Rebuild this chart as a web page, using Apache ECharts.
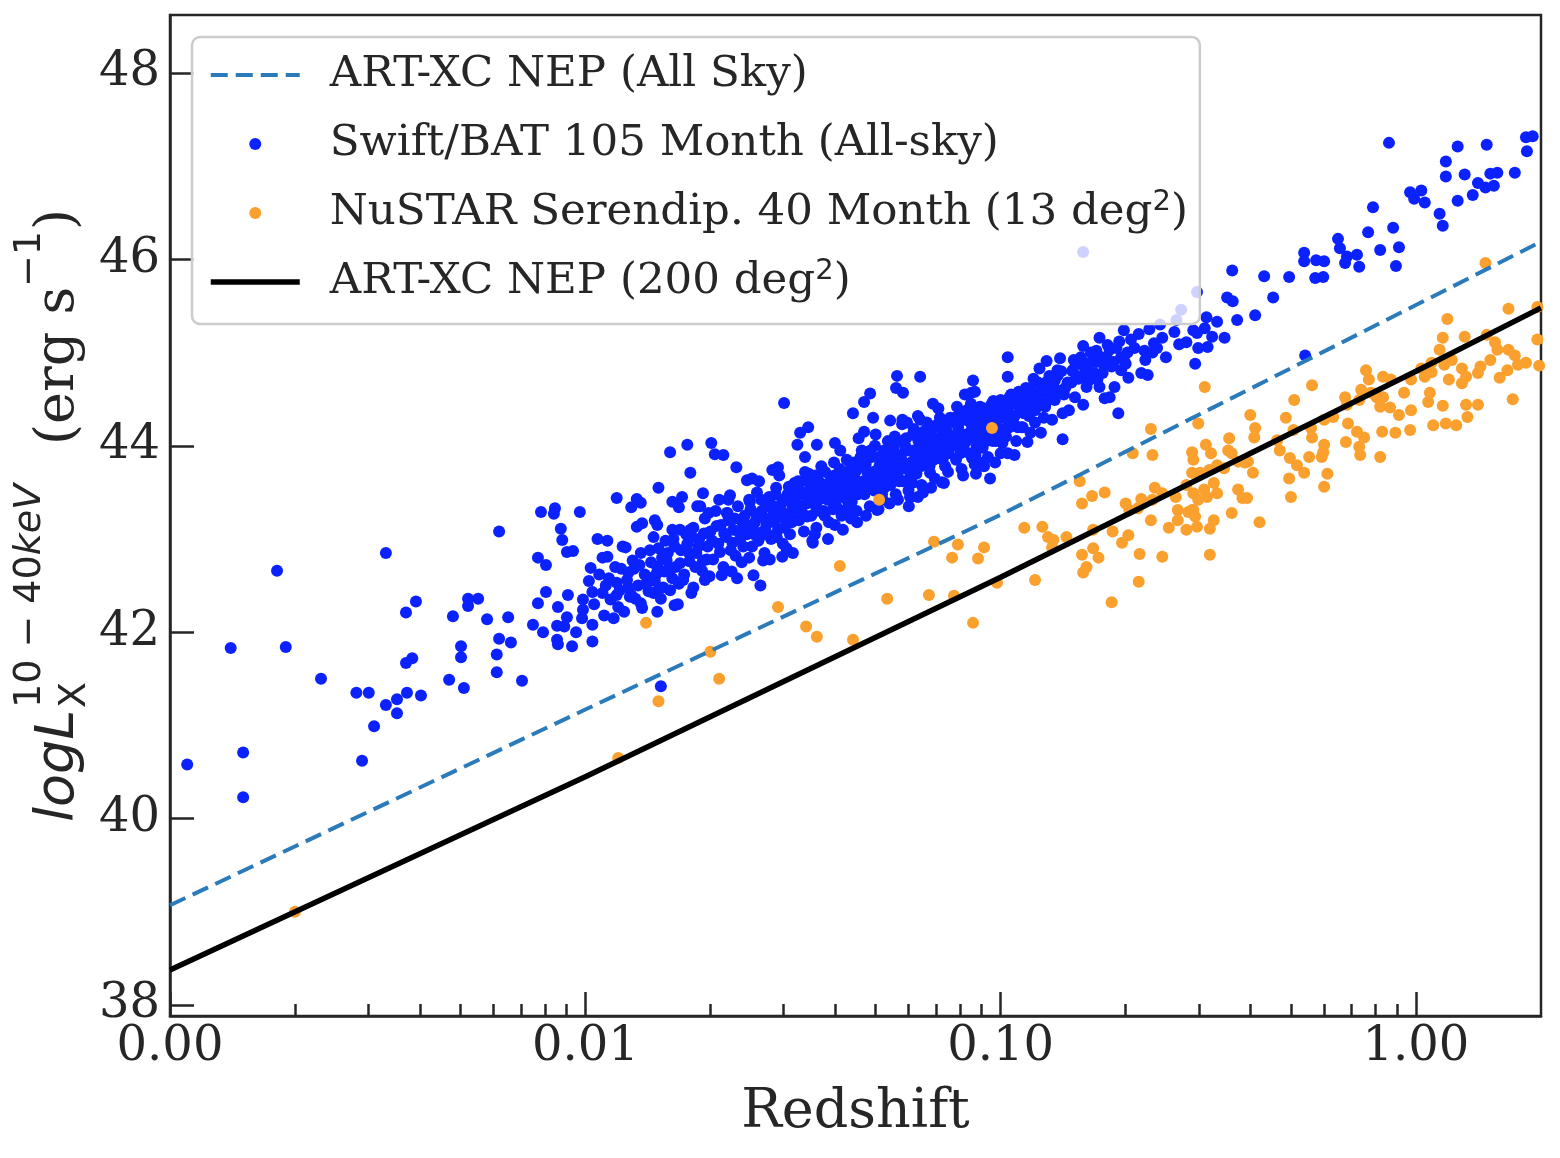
<!DOCTYPE html>
<html><head><meta charset="utf-8">
<script src="https://cdn.jsdelivr.net/npm/echarts@6/dist/echarts.min.js"></script>
<style>html,body{margin:0;padding:0;background:#fff}#c{width:1560px;height:1158px}</style>
</head><body><div id="c"></div>
<script>
const xMajorTicks = [0.001, 0.01, 0.1, 1];
const xMinorTicks = [0.002,0.003,0.004,0.005,0.006,0.007,0.008,0.009,0.02,0.03,0.04,0.05,0.06,0.07,0.08,0.09,0.2,0.3,0.4,0.5,0.6,0.7,0.8,0.9];
const yTicks = [38, 40, 42, 44, 46, 48];

const artAllSky = [[0.001,39.07],[0.01,41.17],[0.1,43.26],[1,45.51],[2,46.19]];
const artNEP200 = [[0.001,38.375],[0.01,40.45],[0.1,42.59],[1,44.80],[2,45.48]];

const swiftLowZ = [[0.00110,40.58],[0.00150,40.71],[0.00150,40.23],[0.00140,41.83],[0.00181,42.66],[0.00190,41.84],[0.00231,41.50],[0.00281,41.35],[0.00301,41.35],[0.00290,40.62],[0.00310,40.99],[0.00331,41.22],[0.00331,42.85],[0.00352,41.28],[0.00352,41.13],[0.00372,41.35],[0.00402,41.32],[0.00370,41.67],[0.00383,41.72],[0.00370,42.21],[0.00391,42.33],[0.00480,42.17],[0.00522,42.36],[0.00552,42.36],[0.00522,42.28],[0.00580,42.14],[0.00620,43.08],[0.00652,42.16],[0.00502,41.85],[0.00502,41.73],[0.00620,41.93],[0.00662,41.89],[0.00612,41.76],[0.00612,41.57],[0.00470,41.49],[0.00510,41.40],[0.00704,41.48],[0.00782,43.29],[0.00845,43.33],[0.00840,43.27],[0.00970,43.29],[0.00873,43.11],[0.00880,42.99],[0.00903,42.86],[0.00934,42.87],[0.00769,42.80],[0.00804,42.72],[0.00804,42.43],[0.00769,42.31],[0.00908,42.40],[0.00859,42.27],[0.00987,42.35],[0.00987,42.24],[0.00982,42.15],[0.00903,42.16],[0.00855,42.07],[0.00890,42.06],[0.00748,42.08],[0.00791,42.00],[0.00855,41.92],[0.00859,41.87],[0.00929,41.85],[0.00950,42.00]];

const swiftMidZ = [[0.0103,42.69],[0.0107,43.00],[0.0113,42.98],[0.0113,42.81],[0.0104,42.43],[0.0110,42.42],[0.0104,42.08],[0.0104,41.90],[0.0111,42.18],[0.0125,42.91],[0.0136,42.85],[0.0130,42.77],[0.0119,42.53],[0.0127,42.64],[0.0128,42.38],[0.0136,42.31],[0.0120,42.27],[0.0149,42.22],[0.0164,42.29],[0.0146,42.42],[0.0154,42.48],[0.0162,42.58],[0.0141,42.59],[0.0149,42.70],[0.0157,42.77],[0.0133,43.13],[0.0137,43.17],[0.0147,43.20],[0.0149,43.15],[0.0162,43.10],[0.0169,43.10],[0.0179,43.10],[0.0182,42.48],[0.0194,42.56],[0.0192,42.77],[0.0213,42.61],[0.0232,42.58],[0.0254,42.61],[0.0264,42.50],[0.0268,42.77],[0.0298,42.81],[0.0316,42.85],[0.0353,42.96],[0.0417,43.10],[0.0451,43.18],[0.0504,43.31],[0.0601,43.35],[0.0632,43.45],[0.0566,43.42],[0.0943,43.65],[0.0722,43.61],[0.0676,43.71],[0.0853,43.87],[0.0907,43.82],[0.100,43.92],
[0.0301,44.46],[0.0563,44.75],[0.0640,44.74],[0.0560,44.62],[0.0582,44.57],[0.0485,44.56],[0.0469,44.47],[0.0441,44.35],[0.0493,44.30],[0.0469,44.15],[0.0687,44.45],[0.0858,44.70],[0.0850,44.57],[0.0867,44.58],[0.0811,44.36],[0.0640,44.28],[0.0542,44.27],[0.0579,44.23],[0.0399,44.03],[0.0344,44.20],[0.0329,44.14],[0.0324,44.01],[0.0361,44.01],[0.0160,43.93],[0.0176,44.01],[0.0201,44.03],[0.0205,43.91],[0.0215,43.90],[0.0231,43.77],[0.0179,43.71],[0.0150,43.55],[0.0119,43.44],[0.0133,43.43],[0.0129,43.34],[0.0136,43.39],[0.0162,43.40],[0.0171,43.45],[0.0168,43.34],[0.0189,43.35],[0.0192,43.49],[0.0198,43.28],[0.0223,43.47],[0.0221,43.42],[0.0220,43.28],[0.0245,43.63],[0.0252,43.65],[0.0248,43.42],[0.0282,43.74],[0.0291,43.77],[0.104,44.95],[0.104,44.74],[0.0152,41.42]];

const swiftCore = [[0.0102,42.55],[0.0105,42.30],[0.0108,42.62],[0.0112,42.50],[0.0115,42.35],[0.0118,42.70],[0.0121,42.45],[0.0124,42.22],[0.0126,42.56],[0.0129,42.40],[0.0131,42.68],[0.0134,42.50],[0.0137,42.26],[0.0139,42.62],[0.0142,42.44],[0.0117,42.15],[0.0123,42.92],[0.0110,42.80],
[0.0144,42.75],[0.0147,42.55],[0.0150,42.90],[0.0152,42.36],[0.0155,42.65],[0.0158,42.85],[0.0160,42.45],[0.0163,43.00],[0.0165,42.70],[0.0168,42.52],[0.0170,42.88],[0.0173,42.62],[0.0175,43.05],[0.0178,42.76],[0.0180,42.42],[0.0146,43.02],[0.0156,42.98],[0.0167,42.30],[0.0176,42.95],[0.0153,42.80],
[0.0182,43.12],[0.0185,42.85],[0.0188,43.00],[0.0191,42.66],[0.0194,43.22],[0.0197,42.92],[0.0200,43.08],[0.0203,42.78],[0.0206,43.30],[0.0209,42.95],[0.0212,43.15],[0.0215,42.70],[0.0218,43.02],[0.0221,43.20],[0.0224,42.88],[0.0227,43.10],[0.0230,42.82],[0.0233,43.35],[0.0236,43.00],[0.0239,43.18],[0.0186,43.35],[0.0199,42.60],[0.0210,43.42],[0.0225,42.65],[0.0238,42.75],
[0.0242,43.25],[0.0245,43.05],[0.0249,43.40],[0.0252,42.92],[0.0256,43.18],[0.0259,43.50],[0.0263,43.02],[0.0266,43.30],[0.0270,42.85],[0.0273,43.15],[0.0277,43.45],[0.0280,43.00],[0.0284,43.28],[0.0288,43.55],[0.0291,43.10],[0.0295,43.35],[0.0299,42.95],[0.0303,43.22],[0.0307,43.48],[0.0311,43.05],[0.0315,43.32],[0.0319,43.60],[0.0248,42.80],[0.0262,43.62],[0.0278,42.78],[0.0293,43.68],[0.0305,42.90],[0.0268,43.08],[0.0286,43.18],[0.0312,43.40],
[0.0323,43.45],[0.0327,43.20],[0.0332,43.62],[0.0336,43.08],[0.0341,43.38],[0.0345,43.70],[0.0350,43.25],[0.0355,43.52],[0.0360,43.12],[0.0365,43.42],[0.0370,43.78],[0.0375,43.30],[0.0380,43.58],[0.0386,43.18],[0.0391,43.48],[0.0397,43.82],[0.0402,43.35],[0.0408,43.62],[0.0414,43.25],[0.0420,43.52],[0.0426,43.85],[0.0338,43.88],[0.0352,42.98],[0.0368,43.60],[0.0384,43.00],[0.0399,43.15],[0.0417,43.70],[0.0330,43.32],[0.0358,43.68],[0.0394,43.40],
[0.0432,43.65],[0.0438,43.40],[0.0444,43.82],[0.0450,43.30],[0.0457,43.58],[0.0463,43.95],[0.0470,43.48],[0.0477,43.72],[0.0484,43.35],[0.0491,43.62],[0.0498,44.00],[0.0505,43.52],[0.0512,43.80],[0.0520,43.42],[0.0527,43.70],[0.0535,44.05],[0.0543,43.58],[0.0551,43.85],[0.0559,43.48],[0.0567,43.75],[0.0436,43.22],[0.0455,44.08],[0.0474,43.25],[0.0489,43.88],[0.0508,43.32],[0.0524,43.95],[0.0540,43.38],[0.0556,44.10],[0.0448,43.55],[0.0481,43.68],[0.0516,43.62],[0.0547,43.70],
[0.0575,43.90],[0.0583,43.62],[0.0592,44.08],[0.0600,43.52],[0.0609,43.82],[0.0618,44.18],[0.0627,43.70],[0.0636,43.98],[0.0645,43.58],[0.0655,43.88],[0.0664,44.25],[0.0674,43.78],[0.0684,44.05],[0.0694,43.65],[0.0704,43.95],[0.0714,44.30],[0.0725,43.85],[0.0736,44.12],[0.0747,43.72],[0.0758,44.02],[0.0580,44.28],[0.0605,43.45],[0.0632,44.32],[0.0650,43.50],[0.0680,43.55],[0.0700,44.22],[0.0730,43.60],[0.0595,43.75],[0.0620,43.92],[0.0660,44.00],[0.0690,43.85],[0.0720,44.10],[0.0750,43.92],
[0.0770,44.10],[0.0781,43.85],[0.0793,44.25],[0.0805,43.75],[0.0817,44.02],[0.0829,44.38],[0.0841,43.92],[0.0853,44.18],[0.0866,43.80],[0.0879,44.08],[0.0892,44.42],[0.0905,43.98],[0.0918,44.25],[0.0932,43.88],[0.0946,44.15],[0.0960,44.48],[0.0974,44.05],[0.0988,44.32],[0.0785,44.42],[0.0812,43.68],[0.0848,44.45],[0.0872,43.70],[0.0912,43.78],[0.0940,44.40],[0.0970,43.82],[0.0798,44.00],[0.0835,44.12],[0.0885,44.20],[0.0925,44.05],[0.0955,44.22],
[0.1010,44.30],[0.1030,44.10],[0.1050,44.52],[0.1070,44.25],[0.1090,44.05],[0.1110,44.42],[0.1130,44.20],[0.1150,44.62],[0.1170,44.32],[0.1190,44.50],[0.1210,44.25],[0.1230,44.68],[0.1250,44.45],[0.1270,44.30],[0.1290,44.58],
[0.135,44.70],[0.142,44.55],[0.148,44.68],[0.152,44.88],[0.160,44.80],[0.168,44.78],[0.175,44.95],[0.185,44.85],[0.190,45.05],[0.195,44.95]];

const swiftCoreDense = [[0.0114,42.58],[0.0119,42.40],[0.0122,42.68],[0.0127,42.48],[0.0132,42.36],[0.0135,42.72],[0.0140,42.52],[0.0143,42.88],[0.0148,42.62],[0.0151,42.47],[0.0156,42.84],[0.0159,42.66],[0.0164,42.92],[0.0169,42.74],[0.0172,42.56],[0.0177,42.86],[0.0181,43.02],[0.0184,42.70],[0.0187,42.92],[0.0193,43.06],[0.0196,42.78],
[0.0202,42.98],[0.0207,43.14],[0.0211,42.86],[0.0216,43.06],[0.0219,43.28],[0.0226,42.96],[0.0229,43.22],[0.0234,43.08],[0.0240,42.92],[0.0244,43.15],[0.0250,43.32],[0.0255,43.05],[0.0258,43.26],[0.0265,43.42],[0.0271,43.22],[0.0275,43.05],[0.0282,43.36],[0.0287,43.48],[0.0292,43.25],[0.0298,43.42],[0.0302,43.12],[0.0309,43.56],[0.0313,43.28],[0.0318,43.45],[0.0325,43.62],[0.0329,43.35],[0.0334,43.50],[0.0342,43.24],[0.0348,43.58],[0.0353,43.40],[0.0362,43.65],[0.0367,43.30],[0.0372,43.52],[0.0378,43.72],[0.0383,43.42],[0.0389,43.62],[0.0395,43.32],
[0.0404,43.55],[0.0410,43.75],[0.0416,43.45],[0.0423,43.65],[0.0429,43.40],[0.0434,43.82],[0.0441,43.58],[0.0447,43.72],[0.0453,43.48],[0.0460,43.88],[0.0467,43.62],[0.0473,43.80],[0.0479,43.55],[0.0486,43.95],[0.0494,43.72],[0.0501,43.60],[0.0509,43.88],[0.0518,43.70],[0.0525,43.55],[0.0532,43.92],[0.0538,43.78],[0.0546,43.62],[0.0553,43.98],[0.0562,43.82],[0.0570,43.62],[0.0578,44.05],[0.0586,43.80],[0.0598,43.95],[0.0607,43.68],[0.0614,44.12],[0.0624,43.85],[0.0634,44.05],[0.0642,43.78],[0.0652,44.15],[0.0662,43.90],[0.0672,44.10],[0.0682,43.85],[0.0692,44.20],
[0.0706,44.02],[0.0717,43.90],[0.0728,44.18],[0.0740,43.95],[0.0752,44.25],[0.0765,44.00],[0.0776,44.30],[0.0788,44.12],[0.0800,43.92],[0.0814,44.28],[0.0826,44.05],[0.0838,44.35],[0.0851,44.10],[0.0862,44.28],[0.0875,44.00],[0.0888,44.32],[0.0900,44.15],[0.0915,44.40],[0.0928,44.12],[0.0943,44.30],[0.0957,44.05],[0.0965,44.38],[0.0980,44.20],[0.0995,44.42],[0.1020,44.18],[0.1040,44.38],[0.1060,44.55],[0.1080,44.32],[0.1100,44.20],[0.1120,44.50],[0.1140,44.35],[0.1160,44.48],[0.1180,44.62],[0.1200,44.40],[0.1220,44.55],[0.1260,44.65],[0.1280,44.45],
[0.131,44.75],[0.136,44.60],[0.140,44.80],[0.145,44.68],[0.150,44.92],[0.154,44.72],[0.158,44.86],[0.163,44.70],[0.170,44.90],[0.176,44.78],[0.181,45.08],[0.187,44.90],[0.193,45.12],[0.200,44.88],[0.210,45.05],[0.215,45.20],[0.222,45.02],[0.228,45.25],[0.238,45.05],[0.242,45.30]];

const swiftCoreInner = [[0.0253,43.12],[0.0261,42.98],[0.0272,43.35],[0.0279,43.20],[0.0289,43.02],[0.0296,43.30],[0.0306,43.42],[0.0314,43.18],[0.0321,43.52],[0.0333,43.28],[0.0343,43.45],[0.0351,43.62],[0.0359,43.35],[0.0369,43.48],[0.0377,43.25],[0.0388,43.55],[0.0398,43.68],[0.0406,43.45],[0.0418,43.58],[0.0427,43.72],[0.0437,43.50],[0.0445,43.65],[0.0456,43.78],[0.0465,43.55],[0.0476,43.85],[0.0487,43.68],[0.0496,43.52],[0.0507,43.75],[0.0519,43.88],[0.0530,43.62],[0.0541,43.80],[0.0552,43.92],[0.0565,43.70],[0.0577,43.85],[0.0589,44.00],[0.0603,43.78],[0.0616,43.95],[0.0629,44.10],[0.0641,43.88],[0.0657,44.02],[0.0669,44.15],[0.0683,43.95],[0.0698,44.08],[0.0711,44.22],[0.0727,44.00],[0.0743,44.15],[0.0756,44.30],[0.0772,44.05],[0.0790,44.20],[0.0808,44.35],[0.0823,44.12],[0.0845,44.25],[0.0860,44.40],[0.0878,44.18],[0.0896,44.30],[0.0910,44.08],[0.0935,44.35],[0.0952,44.45],[0.0978,44.28],[0.0993,44.12],[0.1015,44.40],[0.1045,44.28],[0.1075,44.45],[0.1105,44.58],[0.1135,44.40],[0.1165,44.55],[0.1200,44.72],[0.1240,44.52],[0.1285,44.68],[0.1320,44.55],[0.1370,44.75],[0.1430,44.62],[0.1490,44.80],[0.1560,44.95],[0.1620,44.75],[0.1700,45.02],[0.1780,44.90],[0.0357,43.05],[0.0425,43.32],[0.0518,43.48],[0.0612,43.60],[0.0735,43.78],[0.0870,43.90],[0.0338,43.72],[0.0411,43.95],[0.0500,44.12],[0.0595,44.25],[0.0708,44.40],[0.0820,44.55]];

const swiftHighZ = [[0.861,47.25],[1.26,47.21],[1.48,47.23],[1.84,47.31],[1.91,47.32],[1.85,47.16],[1.18,47.05],[1.18,46.89],[1.31,46.91],[1.51,46.92],[1.57,46.93],[1.73,46.93],[1.41,46.82],[1.47,46.77],[1.54,46.79],[1.37,46.69],[1.26,46.63],[0.968,46.72],[1.03,46.74],[0.990,46.65],[1.05,46.61],[1.14,46.49],[1.16,46.36],[0.788,46.56],[0.767,46.29],[0.881,46.34],[0.910,46.13],[0.895,45.93],[0.820,46.10],[0.649,46.22],[0.656,46.12],[0.682,46.03],[0.675,45.96],[0.721,46.05],[0.730,45.92],[0.538,46.07],[0.538,45.98],[0.575,45.99],[0.601,45.98],[0.572,45.80],[0.598,45.81],[0.431,45.82],[0.495,45.81],[0.453,45.59],[0.361,45.88],[0.351,45.59],[0.362,45.55],[0.410,45.40],[0.371,45.35],[0.541,44.97],[0.158,46.08],[0.297,45.65],[0.272,45.46],[0.332,45.33],[0.323,45.17],[0.346,45.16],[0.313,45.38],[0.310,45.26],[0.297,45.21],[0.291,45.24],[0.299,45.05],[0.315,45.06],[0.294,44.88],[0.269,45.09],[0.280,45.11],[0.262,45.22],[0.265,45.35],[0.245,45.16],[0.250,44.95],[0.234,45.10],[0.232,45.00],[0.223,44.92],[0.218,44.78],[0.226,44.76],[0.206,45.14],[0.198,45.24],[0.202,45.00],[0.198,44.92],[0.195,44.81],[0.203,44.73],[0.183,45.03],[0.180,44.95],[0.178,44.85],[0.173,45.16],[0.165,45.00],[0.164,44.89],[0.158,45.07],[0.139,44.94],[0.137,44.81],[0.129,44.91],[0.124,44.83],[0.149,44.81],[0.155,44.74],[0.171,44.71],[0.173,44.63],[0.161,44.63],[0.183,44.52],[0.178,44.51],[0.188,44.63],[0.192,44.35],[0.158,44.44],[0.151,44.52],[0.146,44.38],[0.141,44.35],[0.112,44.57],[0.118,44.60],[0.125,44.57],[0.133,44.63],[0.135,44.49],[0.100,44.49],[0.104,44.42],[0.110,44.46],[0.114,44.35],[0.121,44.38],[0.128,44.42],[0.133,44.28],[0.105,44.20],[0.112,44.20],[0.118,44.14],[0.125,44.14],[0.116,44.04],[0.101,44.03],[0.104,43.92],[0.108,43.90],[0.141,44.07]];

const nustarLowZ = [[0.00200,39.00],[0.0120,40.65],[0.0140,42.10],[0.0150,41.26],[0.0200,41.79],[0.0210,41.50],[0.0291,42.27],[0.0340,42.06],[0.0361,41.95],[0.0441,41.92],[0.0410,42.71],[0.0510,43.42],[0.0533,42.36],[0.0672,42.40],[0.0772,42.39],[0.0691,42.97],[0.0789,42.94],[0.0912,42.91],[0.0764,42.80],[0.0882,42.79],[0.0980,42.53],[0.0858,42.10],[0.0953,44.19]];

const nustarHighZ = [[1.67,45.47],[1.19,45.36],[1.96,45.49],[1.96,45.14],[1.16,45.16],[1.31,45.17],[1.48,45.19],[1.55,45.11],[1.14,45.03],[1.09,44.89],[1.17,44.87],[1.22,44.92],[1.29,44.83],[1.32,44.74],[1.20,44.71],[1.29,44.67],[1.43,44.85],[1.51,44.92],[1.57,45.03],[1.67,45.03],[1.73,44.97],[1.76,44.87],[1.84,44.89],[1.59,44.73],[1.66,44.81],[1.41,44.78],[1.98,44.86],[1.47,45.96],[1.71,44.50],[1.32,44.44],[1.41,44.44],[1.33,44.31],[1.16,44.43],[1.10,44.22],[1.18,44.24],[1.25,44.22],[1.08,44.57],[1.07,44.47],[1.05,44.74],[1.03,44.83],[1.09,44.79],
[0.973,44.71],[0.936,44.57],[0.973,44.38],[0.910,44.33],[0.866,44.41],[0.833,44.52],[0.870,44.71],[0.833,44.74],[0.820,44.42],[0.804,44.52],[0.758,44.81],[0.770,44.71],[0.738,44.60],[0.780,44.57],[0.730,44.49],[0.892,44.14],[0.829,44.15],[0.968,44.17],[0.675,44.52],[0.682,44.44],[0.686,44.24],[0.721,44.15],[0.750,44.09],[0.678,44.04],[0.730,43.99],[0.734,43.90],[0.820,43.88],[0.601,44.28],[0.632,44.31],[0.559,44.19],[0.562,44.09],[0.509,44.49],[0.486,44.30],[0.507,44.17],[0.562,44.65],[0.463,44.06],[0.470,43.95],[0.497,43.87],[0.517,43.79],[0.538,43.71],[0.553,43.88],[0.593,43.88],[0.601,44.01],[0.598,43.93],[0.612,43.70],[0.601,43.56],[0.495,43.65],[0.500,43.45],
[0.399,44.33],[0.410,44.19],[0.408,44.09],[0.355,44.08],[0.353,43.95],[0.360,43.92],[0.373,43.83],[0.394,43.83],[0.312,44.01],[0.321,43.92],[0.289,43.93],[0.291,43.85],[0.289,43.71],[0.302,43.71],[0.318,43.74],[0.332,43.79],[0.345,43.76],[0.405,43.71],[0.387,43.82],[0.326,43.60],[0.309,43.53],[0.291,43.49],[0.280,43.58],[0.264,43.45],[0.332,43.49],[0.314,43.45],[0.299,43.42],[0.291,43.31],[0.283,43.29],[0.373,43.53],[0.382,43.44],[0.392,43.44],[0.360,43.28],[0.420,43.18],[0.326,43.20],[0.319,43.11],[0.297,43.13],[0.280,43.10],[0.254,43.12],[0.319,42.83],[0.267,43.31],[0.267,43.20],[0.294,43.24],[0.289,43.31],
[0.245,43.49],[0.235,43.55],[0.232,43.42],[0.218,43.43],[0.200,43.38],[0.204,43.31],[0.214,43.33],[0.230,43.20],[0.245,42.81],[0.216,42.84],[0.215,42.54],[0.185,42.32],[0.203,43.04],[0.196,42.96],[0.186,43.08],[0.167,43.10],[0.167,42.90],[0.172,42.80],[0.161,42.70],[0.158,42.64],[0.157,42.83],[0.144,43.02],[0.134,42.99],[0.130,43.02],[0.133,42.91],[0.126,43.13],[0.114,43.12],[0.121,42.56],[0.157,43.38],[0.166,43.46],[0.178,43.50],[0.155,43.62],[0.230,44.18],[0.232,43.90],[0.208,43.92],[0.299,44.24],[0.310,44.63]];

const swiftBAT = swiftLowZ.concat(swiftMidZ, swiftCore, swiftCoreDense, swiftCoreInner, swiftHighZ);
const nustar = nustarLowZ.concat(nustarHighZ);

const INK = '#262626';
const BLUE_LINE = '#2b7bba';
const NAME_ALL = 'ART-XC NEP (All Sky)';
const NAME_SWIFT = 'Swift/BAT 105 Month (All-sky)';
const NAME_NU = 'NuSTAR Serendip. 40 Month (13 deg²)';
const NAME_NEP = 'ART-XC NEP (200 deg²)';

const chart = echarts.init(document.getElementById('c'));
chart.setOption({
  animation: false,
  backgroundColor: '#ffffff',
  grid: {left: 170, top: 15, right: 19, bottom: 142, show: true, borderColor: INK, borderWidth: 2.5, outerBoundsMode: 'none', containLabel: false},
  xAxis: [{
    type: 'log', logBase: 10, min: 0.001, max: 2, position: 'bottom',
    name: 'Redshift', nameLocation: 'middle', nameGap: 70,
    nameTextStyle: {fontFamily: 'DejaVu Serif', fontSize: 54, color: INK},
    axisLine: {show: true, lineStyle: {color: INK, width: 2.5}},
    axisTick: {show: true, inside: true, length: 24, customValues: xMajorTicks, lineStyle: {color: INK, width: 2.5}},
    axisLabel: {customValues: xMajorTicks, margin: 8, fontFamily: 'DejaVu Serif', fontSize: 48, color: INK,
      formatter: v => Number(v).toFixed(2)},
    splitLine: {show: false}, minorTick: {show: false}
  }, {
    type: 'log', logBase: 10, min: 0.001, max: 2, position: 'bottom',
    axisLine: {show: false},
    axisTick: {show: true, inside: true, length: 12, customValues: xMinorTicks, lineStyle: {color: INK, width: 2.5}},
    axisLabel: {show: false}, splitLine: {show: false}
  }],
  yAxis: {
    type: 'value', min: 37.882, max: 48.622,
    axisLine: {show: true, lineStyle: {color: INK, width: 2.5}},
    axisTick: {show: true, inside: true, length: 24, customValues: yTicks, lineStyle: {color: INK, width: 2.5}},
    axisLabel: {customValues: yTicks, margin: 10, fontFamily: 'DejaVu Serif', fontSize: 48, color: INK},
    splitLine: {show: false}
  },
  legend: {
    orient: 'vertical', left: 192, top: 37,
    padding: [13, 12, 17, 16],
    itemWidth: 89, itemHeight: 12, itemGap: 19,
    backgroundColor: 'rgba(255,255,255,0.8)',
    borderColor: '#cccccc', borderWidth: 2.5, borderRadius: 8,
    formatter: name => name.replace('deg²', 'deg{s|2}'),
    textStyle: {fontFamily: 'DejaVu Serif', fontSize: 43.5, color: INK, lineHeight: 50, padding: [0, 0, 0, 25],
      rich: {s: {fontFamily: 'DejaVu Sans', fontSize: 29, color: INK, verticalAlign: 'top', lineHeight: 30}}},
    selectedMode: false,
    data: [
      {name: NAME_ALL, itemStyle: {opacity: 0}, lineStyle: {color: BLUE_LINE, width: 4, type: [17, 8], opacity: 1}},
      {name: NAME_SWIFT},
      {name: NAME_NU},
      {name: NAME_NEP, itemStyle: {opacity: 0}, lineStyle: {color: '#000000', width: 5.5, type: 'solid', opacity: 1}}
    ]
  },
  graphic: [{
    type: 'group', x: 59, y: 822, rotation: Math.PI / 2, silent: true,
    children: [
      {type: 'text', x: 0, y: 0, style: {text: 'logL', font: 'italic 54px "DejaVu Sans"', fill: INK, align: 'left', verticalAlign: 'middle'}},
      {type: 'text', x: 114, y: 16, style: {text: 'X', font: '38px "DejaVu Sans"', fill: INK, align: 'left', verticalAlign: 'middle'}},
      {type: 'text', x: 114, y: -29, style: {text: '{d|10 − 40}{i|keV}', fill: INK, align: 'left', verticalAlign: 'middle',
        rich: {d: {fontFamily: 'DejaVu Sans', fontSize: 38, fill: INK}, i: {fontFamily: 'DejaVu Sans', fontStyle: 'italic', fontSize: 38, fill: INK}}}},
      {type: 'text', x: 377, y: 0, style: {text: '(erg s', font: '54px "DejaVu Serif"', fill: INK, align: 'left', verticalAlign: 'middle'}},
      {type: 'text', x: 535, y: -29, style: {text: '−1', font: '38px "DejaVu Sans"', fill: INK, align: 'left', verticalAlign: 'middle'}},
      {type: 'text', x: 592, y: 0, style: {text: ')', font: '54px "DejaVu Serif"', fill: INK, align: 'left', verticalAlign: 'middle'}}
    ]
  }],
  series: [
    {name: NAME_SWIFT, type: 'scatter', xAxisIndex: 0, data: swiftBAT, symbol: 'circle', symbolSize: 12,
      itemStyle: {color: '#0b22ff', opacity: 1}, z: 2, silent: true},
    {name: NAME_NU, type: 'scatter', xAxisIndex: 0, data: nustar, symbol: 'circle', symbolSize: 12,
      itemStyle: {color: '#faa02e', opacity: 1}, z: 3, silent: true},
    {name: NAME_ALL, type: 'line', xAxisIndex: 0, data: artAllSky, symbol: 'none', showSymbol: false,
      itemStyle: {color: BLUE_LINE}, lineStyle: {color: BLUE_LINE, width: 4, type: [17, 8]}, z: 4, silent: true},
    {name: NAME_NEP, type: 'line', xAxisIndex: 0, data: artNEP200, symbol: 'none', showSymbol: false,
      itemStyle: {color: '#000000'}, lineStyle: {color: '#000000', width: 5.5}, z: 4, silent: true}
  ]
});
</script>
</body></html>
